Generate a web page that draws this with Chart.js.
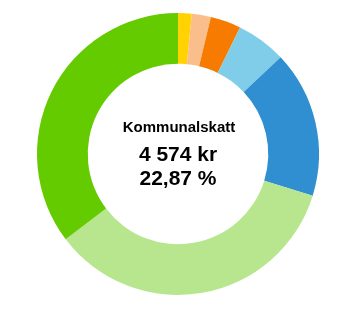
<!DOCTYPE html>
<html>
<head>
<meta charset="utf-8">
<script src="https://cdn.jsdelivr.net/npm/chart.js@4.4.0/dist/chart.umd.min.js"></script>
<style>
  body { margin: 0; background: #fff; }
  #wrap { width: 353px; height: 320px; position: relative; }
</style>
</head>
<body>
<div id="wrap"><canvas id="myChart"></canvas></div>
<script>
// slices clockwise from the top (kr)
const labels = ['A', 'B', 'C', 'D', 'E', 'F', 'G'];
const values = [312, 438, 700, 1144, 3360, 6980, 7066];
const colors = ['#FFD200', '#FABE8C', '#F77B00', '#80CDE9', '#308FD0', '#B7E68F', '#64CB00'];

const centerTitle = 'Kommunalskatt';
const centerAmount = '4 574 kr';
const centerPercent = '22,87 %';

// text in the hole
const centerText = {
  id: 'centerText',
  afterDraw(chart) {
    const meta = chart.getDatasetMeta(0);
    const x = meta.data[0].x;
    const y = meta.data[0].y;
    const ctx = chart.ctx;
    ctx.save();
    ctx.fillStyle = '#000';
    ctx.textAlign = 'center';
    ctx.textBaseline = 'alphabetic';
    ctx.font = 'bold 15px "Liberation Sans", Arial, sans-serif';
    ctx.fillText(centerTitle, x + 1, y - 22.5);
    ctx.font = 'bold 21px "Liberation Sans", Arial, sans-serif';
    ctx.fillText(centerAmount, x, y + 6.5);
    ctx.fillText(centerPercent, x, y + 30.5);
    ctx.restore();
  }
};

var ctx = document.getElementById('myChart').getContext('2d');
var chart = new Chart(ctx, {
  type: 'doughnut',
  data: {
    labels: labels,
    datasets: [{
      data: values,
      backgroundColor: colors,
      borderWidth: 0
    }]
  },
  options: {
    responsive: true,
    maintainAspectRatio: false,
    animation: false,
    cutout: '64%',
    layout: { padding: { top: 13, bottom: 25, left: 3, right: 0 } },
    plugins: {
      legend: { display: false },
      tooltip: { enabled: false }
    }
  },
  plugins: [centerText]
});
</script>
</body>
</html>
